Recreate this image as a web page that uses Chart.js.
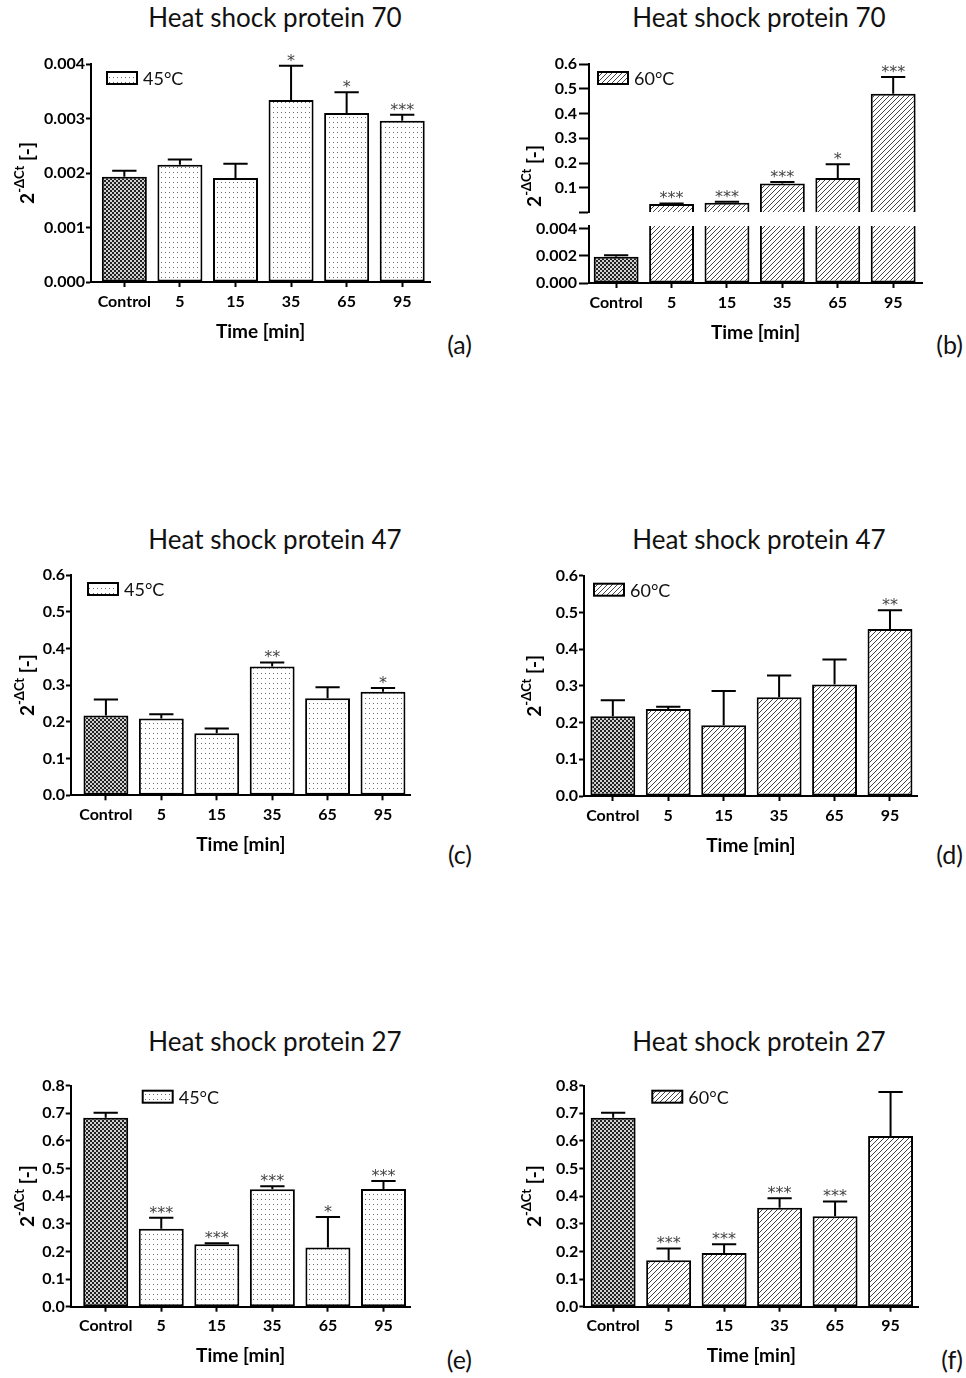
<!DOCTYPE html>
<html>
<head>
<meta charset="utf-8">
<script src="https://cdn.jsdelivr.net/npm/chart.js@4.4.0/dist/chart.umd.min.js"></script>
<style>
  body { margin: 0; background: #fff; width: 966px; height: 1378px; position: relative; overflow: hidden; font-family: Lato, "DejaVu Sans", sans-serif; }
  canvas { position: absolute; }
  .title { position: absolute; font-size: 26px; line-height: 26px; color: #111; transform: translateX(-50%); white-space: nowrap; }
  .tag { position: absolute; font-size: 25px; line-height: 25px; color: #111; }
</style>
</head>
<body>
<div class="title" style="left:275px;top:4px">Heat shock protein 70</div>
<div class="title" style="left:759px;top:4px">Heat shock protein 70</div>
<div class="title" style="left:275px;top:526px">Heat shock protein 47</div>
<div class="title" style="left:759px;top:526px">Heat shock protein 47</div>
<div class="title" style="left:275px;top:1028px">Heat shock protein 27</div>
<div class="title" style="left:759px;top:1028px">Heat shock protein 27</div>

<div class="tag" style="right:494px;top:332px">(a)</div>
<div class="tag" style="right:3px;top:332px">(b)</div>
<div class="tag" style="right:494px;top:842px">(c)</div>
<div class="tag" style="right:3px;top:842px">(d)</div>
<div class="tag" style="right:494px;top:1347px">(e)</div>
<div class="tag" style="right:3px;top:1347px">(f)</div>

<canvas id="chartA" width="480" height="303" style="left:0;top:40px"></canvas>
<canvas id="chartBTop" width="476" height="185" style="left:490px;top:40px"></canvas>
<canvas id="chartBLow" width="476" height="138" style="left:490px;top:206px"></canvas>
<canvas id="chartC" width="480" height="306" style="left:0;top:551px"></canvas>
<canvas id="chartD" width="476" height="305" style="left:490px;top:552px"></canvas>
<canvas id="chartE" width="480" height="306" style="left:0;top:1062px"></canvas>
<canvas id="chartF" width="476" height="306" style="left:490px;top:1062px"></canvas>

<script>
const categories = ['Control', '5', '15', '35', '65', '95'];

// mean 2^-ΔCt, upper error and significance marks per time point
const hsp70At45 = [0.00193, 0.00215, 0.00191, 0.00334, 0.00310, 0.00296];
const hsp70At45Err = [0.00011, 0.00010, 0.00026, 0.00063, 0.00038, 0.00011];
const hsp70At45Sig = ['', '', '', '*', '*', '***'];

const hsp70At60 = [0.00193, 0.035, 0.040, 0.118, 0.140, 0.480];
const hsp70At60Err = [0.00011, 0.002, 0.004, 0.006, 0.055, 0.068];
const hsp70At60Sig = ['', '***', '***', '***', '*', '***'];

const hsp47At45 = [0.217, 0.209, 0.169, 0.351, 0.264, 0.282];
const hsp47At45Err = [0.044, 0.012, 0.013, 0.011, 0.030, 0.010];
const hsp47At45Sig = ['', '', '', '**', '', '*'];

const hsp47At60 = [0.217, 0.237, 0.193, 0.269, 0.304, 0.455];
const hsp47At60Err = [0.044, 0.006, 0.093, 0.059, 0.068, 0.051];
const hsp47At60Sig = ['', '', '', '', '', '**'];

const hsp27At45 = [0.684, 0.282, 0.226, 0.425, 0.214, 0.426];
const hsp27At45Err = [0.018, 0.040, 0.004, 0.011, 0.111, 0.029];
const hsp27At45Sig = ['', '***', '***', '***', '*', '***'];

const hsp27At60 = [0.684, 0.168, 0.194, 0.358, 0.327, 0.618];
const hsp27At60Err = [0.018, 0.043, 0.032, 0.035, 0.054, 0.159];
const hsp27At60Sig = ['', '***', '***', '***', '***', ''];

// the y axis of panel (b) is broken here
const breakAt = 0.0042;

Chart.defaults.font.family = 'Lato';
Chart.defaults.color = '#000';

function makePattern(kind) {
    const c = document.createElement('canvas');
    const g = c.getContext('2d');
    if (kind === 'check') {
        c.width = c.height = 4;
        g.fillStyle = '#d0d0d0';
        g.fillRect(0, 0, 4, 4);
        g.fillStyle = '#222';
        g.fillRect(0, 0, 2, 2);
        g.fillRect(2, 2, 2, 2);
    } else if (kind === 'dots') {
        c.width = 4; c.height = 5;
        g.fillStyle = '#fff';
        g.fillRect(0, 0, 4, 5);
        g.fillStyle = '#6a6a6a';
        g.fillRect(1, 2, 1, 1);
    } else {
        c.width = c.height = 5;
        g.fillStyle = '#fff';
        g.fillRect(0, 0, 5, 5);
        g.strokeStyle = '#444';
        g.lineWidth = 1;
        g.beginPath();
        g.moveTo(0, 5); g.lineTo(5, 0);
        g.moveTo(-1, 1); g.lineTo(1, -1);
        g.moveTo(4, 6); g.lineTo(6, 4);
        g.stroke();
    }
    return g.createPattern(c, 'repeat');
}

const checker = makePattern('check');
const dots = makePattern('dots');
const hatch = makePattern('hatch');

// error bars + significance stars
const errorBars = {
    id: 'errorBars',
    afterDatasetsDraw(chart, args, opts) {
        if (!opts.err) return;
        const ctx = chart.ctx;
        const yScale = chart.scales.y;
        const points = chart.data.datasets[0].data;
        ctx.save();
        chart.getDatasetMeta(0).data.forEach((bar, i) => {
            const v = points[i].y;
            if (v == null) return;
            const hi = v + opts.err[i];
            let top = bar.y;
            if (hi <= yScale.max) {
                top = yScale.getPixelForValue(hi);
                const cap = bar.width * 0.27;
                ctx.strokeStyle = '#000';
                ctx.lineWidth = 2;
                ctx.beginPath();
                ctx.moveTo(bar.x, bar.y);
                ctx.lineTo(bar.x, top);
                ctx.moveTo(bar.x - cap, top);
                ctx.lineTo(bar.x + cap, top);
                ctx.stroke();
            }
            const sig = opts.sig && opts.sig[i];
            if (sig) {
                ctx.fillStyle = '#444';
                ctx.font = '16px "DejaVu Sans"';
                ctx.textAlign = 'center';
                ctx.textBaseline = 'alphabetic';
                ctx.fillText(sig, bar.x, top);
            }
        });
        ctx.restore();
    }
};

const keyBox = {
    id: 'keyBox',
    afterDraw(chart, args, opts) {
        if (!opts.label) return;
        const ctx = chart.ctx;
        const x = chart.chartArea.left + opts.dx;
        const y = chart.chartArea.top + opts.dy;
        ctx.save();
        ctx.fillStyle = opts.fill;
        ctx.fillRect(x, y, 30, 12);
        ctx.strokeStyle = '#000';
        ctx.lineWidth = 2;
        ctx.strokeRect(x, y, 30, 12);
        ctx.fillStyle = '#111';
        ctx.font = '18px Lato';
        ctx.textAlign = 'left';
        ctx.textBaseline = 'middle';
        ctx.fillText(opts.label, x + 36, y + 7);
        ctx.restore();
    }
};

// y title with a superscript: 2^-ΔCt [-]
const yTitle = {
    id: 'yTitle',
    afterDraw(chart, args, opts) {
        if (opts.x == null) return;
        const ctx = chart.ctx;
        const area = chart.chartArea;
        const cy = opts.y != null ? opts.y : (area.top + area.bottom) / 2;
        const parts = [
            { t: '2', f: 'bold 19px Lato', dy: 0 },
            { t: '-ΔCt', f: 'bold 13px Lato', dy: -8 },
            { t: ' [-]', f: 'bold 19px Lato', dy: 0 }
        ];
        ctx.save();
        let total = 0;
        parts.forEach(p => { ctx.font = p.f; p.w = ctx.measureText(p.t).width; total += p.w; });
        ctx.translate(opts.x, cy);
        ctx.rotate(-Math.PI / 2);
        ctx.fillStyle = '#000';
        ctx.textBaseline = 'middle';
        ctx.textAlign = 'left';
        let pos = -total / 2;
        parts.forEach(p => { ctx.font = p.f; ctx.fillText(p.t, pos, p.dy); pos += p.w; });
        ctx.restore();
    }
};

Chart.register(errorBars, keyBox, yTitle);

function barChart(id, p) {
    const axisGrid = (len) => ({
        drawOnChartArea: false, drawTicks: true, offset: false,
        tickLength: len, tickWidth: 2, tickColor: '#000'
    });
    const tickFont = { size: 16, weight: 'bold' };
    const x = {
        type: 'linear', min: p.xMin, max: p.xMax, offset: false,
        display: p.showX !== false,
        afterBuildTicks: s => { s.ticks = categories.map((c, i) => ({ value: i })); },
        grid: axisGrid(5),
        border: { color: '#000', width: 2 },
        ticks: { callback: v => categories[v], font: tickFont, color: '#000', padding: 5, maxRotation: 0, autoSkip: false },
        title: { display: true, text: 'Time [min]', font: { size: 19, weight: 'bold' }, color: '#000', padding: 0 }
    };
    if (p.showX !== false) x.afterFit = s => { s.height = 61; };

    return new Chart(document.getElementById(id), {
        type: 'bar',
        data: {
            datasets: [{
                data: p.values.map((v, i) => ({ x: i, y: v })),
                backgroundColor: p.values.map((v, i) => i === 0 ? checker : p.fill),
                borderColor: '#000',
                borderWidth: 2,
                borderSkipped: p.skip || false,
                barPercentage: 0.81,
                categoryPercentage: 1
            }]
        },
        options: {
            responsive: false,
            animation: false,
            events: [],
            layout: { padding: { top: p.padTop, right: p.padRight, bottom: p.padBottom || 0, left: 0 } },
            plugins: {
                legend: { display: false },
                tooltip: { enabled: false },
                errorBars: { err: p.err, sig: p.sig },
                keyBox: p.key || {},
                yTitle: { x: p.titleX, y: p.titleY }
            },
            scales: {
                x: x,
                y: {
                    min: 0, max: p.yMax,
                    afterFit: s => { s.width = p.yWidth; },
                    grid: axisGrid(p.tick || 5),
                    border: { color: '#000', width: 2 },
                    ticks: {
                        stepSize: p.step, includeBounds: false,
                        callback: v => (p.hideZero && v === 0) ? '' : v.toFixed(p.dec),
                        font: tickFont, color: '#000', padding: p.tickPad || 1
                    }
                }
            }
        }
    });
}

// (a)
barChart('chartA', {
    values: hsp70At45, err: hsp70At45Err, sig: hsp70At45Sig, fill: dots,
    xMin: -0.6, xMax: 5.5, yMax: 0.004, step: 0.001, dec: 3,
    yWidth: 91, padTop: 24, padRight: 50, titleX: 28,
    key: { label: '45°C', fill: dots, dx: 16, dy: 8 }
});

// (b) upper part of the broken axis
barChart('chartBTop', {
    values: hsp70At60.map(v => v > breakAt ? v : null),
    err: hsp70At60Err, sig: hsp70At60Sig, fill: hatch, skip: 'bottom', showX: false,
    xMin: -0.49, xMax: 5.52, yMax: 0.6, step: 0.1, dec: 1, hideZero: true, tick: 10, tickPad: 2,
    yWidth: 99, padTop: 24, padRight: 44, padBottom: 12.4, titleX: 45, titleY: 136,
    key: { label: '60°C', fill: hatch, dx: 9, dy: 8 }
});

// (b) lower part
barChart('chartBLow', {
    values: hsp70At60.map(v => Math.min(v, breakAt)),
    err: hsp70At60Err, fill: hatch,
    skip: ctx => hsp70At60[ctx.dataIndex] > breakAt ? 'top' : false,
    xMin: -0.49, xMax: 5.52, yMax: breakAt, step: 0.002, dec: 3, tick: 10, tickPad: 2,
    yWidth: 99, padTop: 20, padRight: 44
});

// (c)
barChart('chartC', {
    values: hsp47At45, err: hsp47At45Err, sig: hsp47At45Sig, fill: dots,
    xMin: -0.63, xMax: 5.5, yMax: 0.6, step: 0.1, dec: 1,
    yWidth: 71, padTop: 24, padRight: 69.3, padBottom: 0.7, titleX: 28,
    key: { label: '45°C', fill: dots, dx: 17, dy: 8 }
});

// (d)
barChart('chartD', {
    values: hsp47At60, err: hsp47At60Err, sig: hsp47At60Sig, fill: hatch,
    xMin: -0.52, xMax: 5.5, yMax: 0.6, step: 0.1, dec: 1,
    yWidth: 94, padTop: 23.7, padRight: 48.3, titleX: 45,
    key: { label: '60°C', fill: hatch, dx: 10, dy: 8 }
});

// (e)
barChart('chartE', {
    values: hsp27At45, err: hsp27At45Err, sig: hsp27At45Sig, fill: dots,
    xMin: -0.63, xMax: 5.49, yMax: 0.8, step: 0.1, dec: 1,
    yWidth: 70.7, padTop: 23.7, padRight: 69.3, padBottom: 0.3, titleX: 28,
    key: { label: '45°C', fill: dots, dx: 72, dy: 5 }
});

// (f)
barChart('chartF', {
    values: hsp27At60, err: hsp27At60Err, sig: hsp27At60Sig, fill: hatch,
    xMin: -0.52, xMax: 5.5, yMax: 0.8, step: 0.1, dec: 1,
    yWidth: 94.3, padTop: 23.7, padRight: 47.7, padBottom: 0.3, titleX: 45,
    key: { label: '60°C', fill: hatch, dx: 68, dy: 5 }
});
</script>
</body>
</html>
